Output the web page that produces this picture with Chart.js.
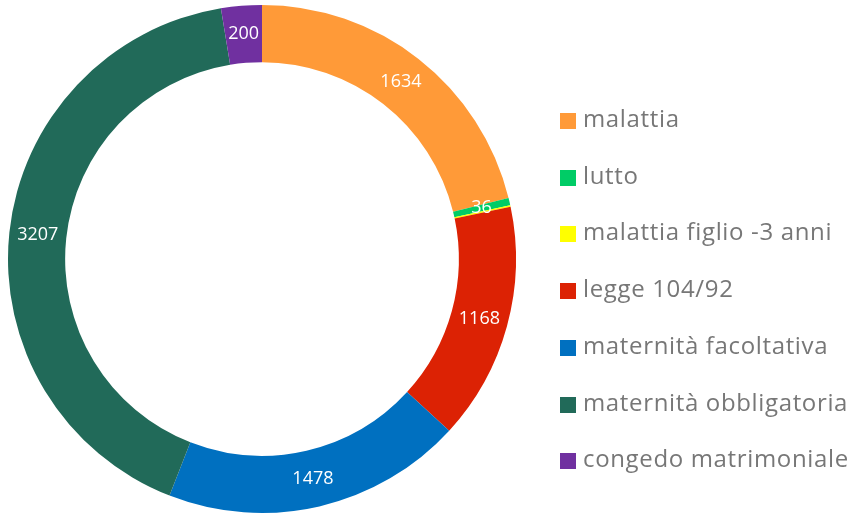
<!DOCTYPE html>
<html>
<head>
<meta charset="utf-8">
<script src="https://cdn.jsdelivr.net/npm/chart.js@4"></script>
<style>
  html, body { margin: 0; padding: 0; background: #fff; }
  #wrap { position: relative; width: 856px; height: 514px; }
  #legend { position: absolute; left: 560px; top: 0; font-family: "Open Sans", sans-serif; font-size: 24px; letter-spacing: 0.65px; color: #777; }
  .item { position: absolute; left: 0; white-space: nowrap; height: 30px; line-height: 30px; }
  .box { position: absolute; left: 0; top: 7px; width: 16px; height: 16px; }
  .txt { position: absolute; left: 23px; top: -3px; }
</style>
</head>
<body>
<div id="wrap">
  <canvas id="chart" width="856" height="514"></canvas>
  <div id="legend"></div>
</div>
<script>
// Data
const categories = ['malattia', 'lutto', 'malattia figlio -3 anni', 'legge 104/92', 'maternità facoltativa', 'maternità obbligatoria', 'congedo matrimoniale'];
const values = [1634, 36, 8, 1168, 1478, 3207, 200];
const colors = ['#FF9A38', '#00CC66', '#FFFF00', '#DC2204', '#0070C0', '#216A59', '#7030A0'];

// value labels inside the ring
const ringLabels = {
  id: 'ringLabels',
  afterDatasetsDraw(chart) {
    const ctx = chart.ctx;
    const meta = chart.getDatasetMeta(0);
    ctx.save();
    ctx.fillStyle = '#fff';
    ctx.font = '18px "Open Sans", sans-serif';
    ctx.textAlign = 'center';
    ctx.textBaseline = 'middle';
    meta.data.forEach((arc, i) => {
      if (values[i] < 20) return;
      const p = arc.tooltipPosition();
      ctx.fillText(values[i], p.x, p.y);
    });
    ctx.restore();
  }
};

const chart = new Chart(document.getElementById('chart'), {
  type: 'doughnut',
  data: {
    labels: categories,
    datasets: [{
      data: values,
      backgroundColor: colors,
      borderWidth: 0
    }]
  },
  options: {
    responsive: false,
    animation: false,
    cutout: '77.5%',
    layout: { padding: { left: 8, top: 5, bottom: 1, right: 340 } },
    plugins: {
      legend: { display: false },
      tooltip: { enabled: false }
    }
  },
  plugins: [ringLabels]
});

// Legend
const legend = document.getElementById('legend');
categories.forEach((c, i) => {
  const item = document.createElement('div');
  item.className = 'item';
  item.style.top = (106 + i * 56.7) + 'px';
  item.innerHTML = '<span class="box" style="background:' + colors[i] + '"></span><span class="txt">' + c + '</span>';
  legend.appendChild(item);
});
</script>
</body>
</html>
